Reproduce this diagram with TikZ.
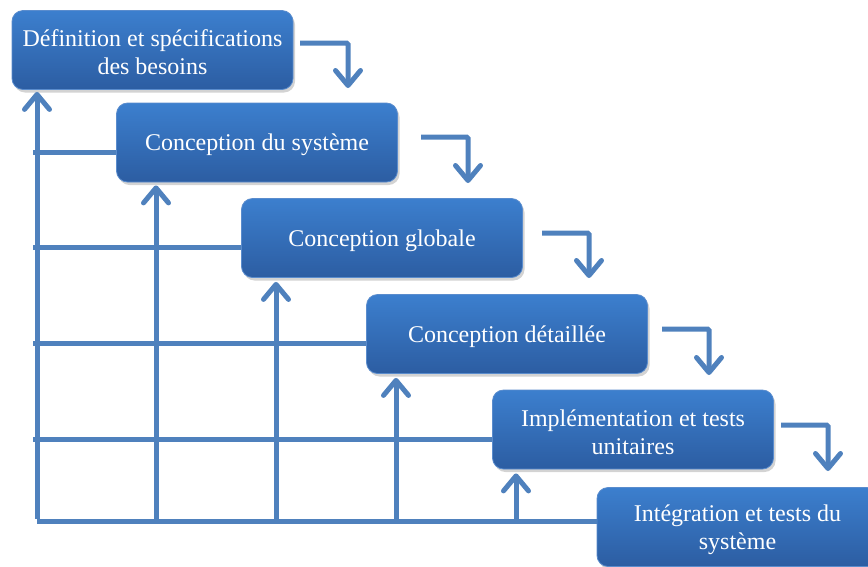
\documentclass[tikz,border=0pt]{standalone}
\usepackage{fontspec}
\setmainfont{Liberation Serif}
\usetikzlibrary{arrows.meta,shadows,calc}
\definecolor{lineblue}{RGB}{79,129,189}
\definecolor{boxtop}{RGB}{60,127,206}
\definecolor{boxbot}{RGB}{44,93,162}
\definecolor{boxedge}{RGB}{90,140,205}
\tikzset{
  phase/.style={rounded corners=11pt, minimum width=281pt, minimum height=79pt,
    top color=boxtop, bottom color=boxbot, draw=boxedge, line width=0.8pt,
    inner sep=0pt,
    drop shadow={opacity=0.35, shadow xshift=2pt, shadow yshift=-3pt}},
  phasetext/.style={text=white, align=center, inner sep=0pt,
    font=\fontsize{24}{28}\selectfont, yshift=-2.5pt},
  fb/.style={draw=lineblue, line width=5pt},
  fbup/.style={fb, -{Straight Barb[length=15pt,width=25pt,round]}},
  stp/.style={draw=lineblue, line width=5pt, rounded corners=1.5pt,
    -{Straight Barb[length=15pt,width=25pt,round]}}
}
\begin{document}
\begin{tikzpicture}[x=1pt,y=-1pt]
\useasboundingbox (0,0) rectangle (868,566);
% coordinates for feedback grid
\coordinate (c0) at (37,521);
\coordinate (v1) at (156,521);
\coordinate (v2) at (276,521);
\coordinate (v3) at (396,521);
\coordinate (v4) at (516,521);
\coordinate (h2) at (33,152);
\coordinate (h3) at (33,247);
\coordinate (h4) at (33,343);
\coordinate (h5) at (33,439);
% step arrow end points
\coordinate (s1) at (300,43);
\coordinate (t1) at (348,88);
\coordinate (s2) at (421,137);
\coordinate (t2) at (468,183);
\coordinate (s3) at (542,233);
\coordinate (t3) at (589,278);
\coordinate (s4) at (662,329);
\coordinate (t4) at (709,375);
\coordinate (s5) at (781,425);
\coordinate (t5) at (828,471);

% feedback lines (drawn first, under boxes)
\draw[fb] (h2) -- (h2 -| 118,0);
\draw[fb] (h3) -- (h3 -| 243,0);
\draw[fb] (h4) -- (h4 -| 368,0);
\draw[fb] (h5) -- (h5 -| 494,0);

% boxes
\node[phase, label={[name=l1,phasetext]center:Définition et spécifications\\des besoins}] (b1) at (152.5,50) {};
\node[phase, label={[name=l2,phasetext]center:Conception du système}] (b2) at (257,142.5) {};
\node[phase, label={[name=l3,phasetext]center:Conception globale}] (b3) at (382,238) {};
\node[phase, label={[name=l4,phasetext]center:Conception détaillée}] (b4) at (507,334) {};
\node[phase, label={[name=l5,phasetext]center:Implémentation et tests\\unitaires}] (b5) at (633,429.5) {};
\node[phase, label={[name=l6,phasetext]center:Intégration et tests du\\système}] (b6) at (737.5,527) {};

% bottom line and vertical arrows
\draw[fb] (c0) -- (c0 -| b6.west);
\draw[fbup] ([yshift=2.5pt]c0) -- ($(b1.south -| c0)+(0,2)$);
\draw[fbup] (v1) -- ($(b2.south -| v1)+(0,3)$);
\draw[fbup] (v2) -- ($(b3.south -| v2)+(0,4)$);
\draw[fbup] (v3) -- ($(b4.south -| v3)+(0,4)$);
\draw[fbup] (v4) -- ($(b5.south -| v4)+(0,4)$);

% step arrows
\draw[stp] (s1) -| (t1);
\draw[stp] (s2) -| (t2);
\draw[stp] (s3) -| (t3);
\draw[stp] (s4) -| (t4);
\draw[stp] (s5) -| (t5);
\end{tikzpicture}
\end{document}
